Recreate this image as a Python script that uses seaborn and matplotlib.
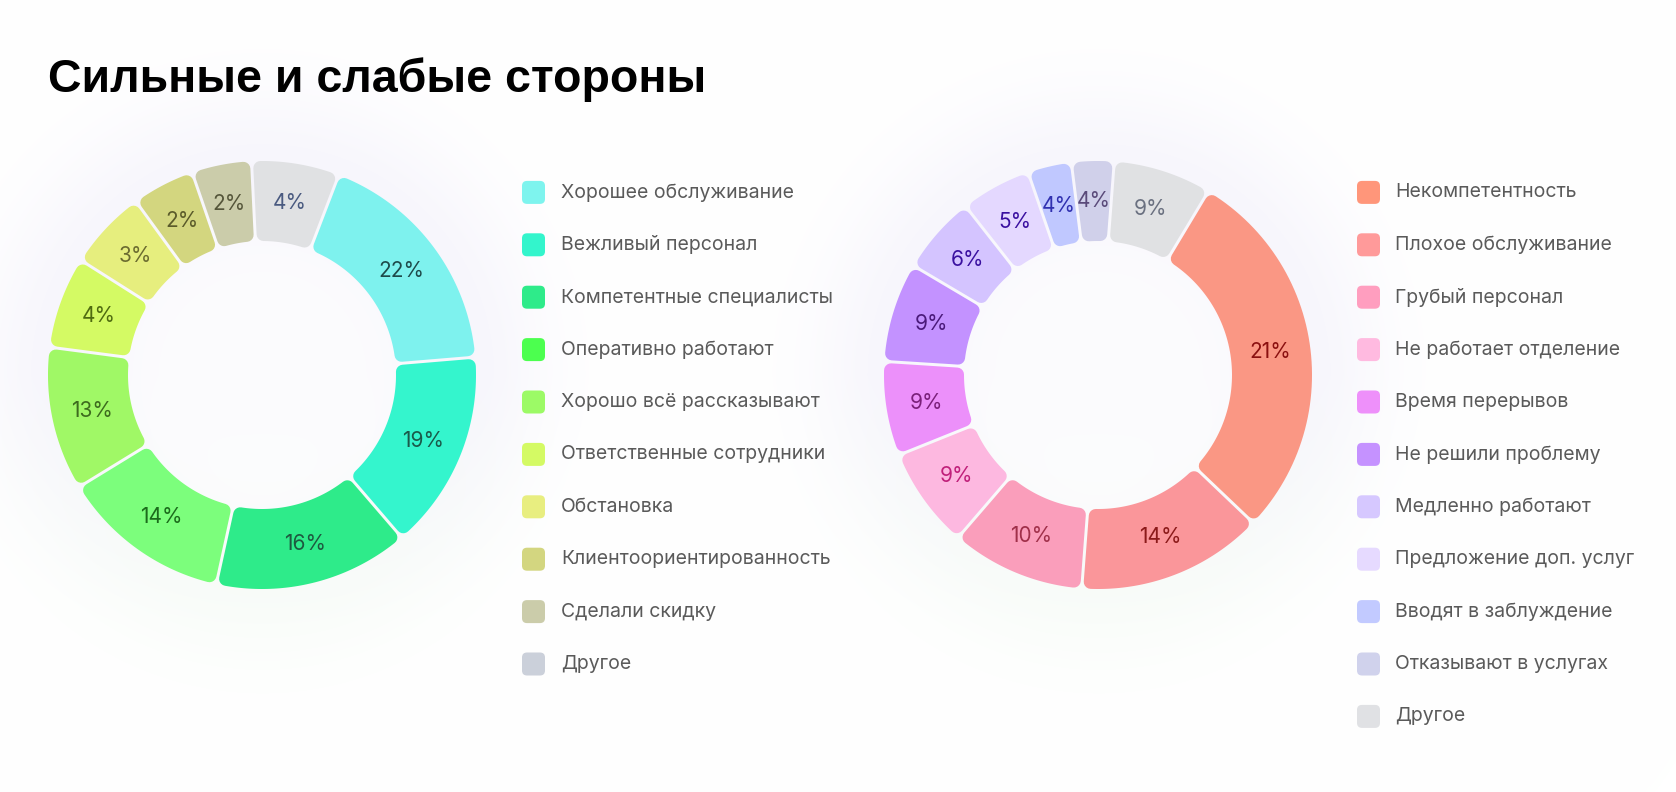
import numpy as np
import matplotlib
matplotlib.use("Agg")
import matplotlib.pyplot as plt
import seaborn as sns
from matplotlib.patches import Polygon, FancyBboxPatch

# ---------------- data ----------------
title = "Сильные и слабые стороны"

left_categories = ["Хорошее обслуживание", "Вежливый персонал", "Компетентные специалисты",
                   "Оперативно работают", "Хорошо всё рассказывают", "Ответственные сотрудники",
                   "Обстановка", "Клиентоориентированность", "Сделали скидку", "Другое"]
left_pct = [22, 19, 16, 14, 13, 4, 3, 2, 2, 4]
# visible share of the ring each slice takes in the picture
left_arc_share = [17.8, 15.0, 14.7, 12.8, 10.8, 6.9, 6.0, 4.7, 4.5, 6.6]
left_colors = ["#7EF2EE", "#34F5CD", "#2EEB8A", "#7CFE7C", "#A0F866", "#D4FA64",
               "#E6EE7E", "#D3D67F", "#CBCCAA", "#E0E1E3"]
left_legend_colors = ["#7EF4EE", "#33F5CC", "#2EEB8A", "#4CFF4F", "#9CFA66", "#D4FA64",
                      "#E8EE80", "#D3D680", "#CBCCAA", "#CBD0DA"]
left_label_colors = ["#1E4A4A", "#1A5A4A", "#1E5A40", "#1B6B1B", "#3D6B1E", "#4F6B10",
                     "#6B6B30", "#5A5A2A", "#55553A", "#4A5A80"]

right_categories = ["Некомпетентность", "Плохое обслуживание", "Грубый персонал",
                    "Не работает отделение", "Время перерывов", "Не решили проблему",
                    "Медленно работают", "Предложение доп. услуг", "Вводят в заблуждение",
                    "Отказывают в услугах", "Другое"]
right_pct = [21, 14, 10, 9, 9, 9, 6, 5, 4, 4, 9]
right_arc_share = [28.5, 14.1, 10.1, 7.6, 7.1, 7.5, 5.9, 5.3, 3.3, 3.2, 7.4]
right_colors = ["#FA9784", "#FA969A", "#FA9EBB", "#FDB8E0", "#EC90FA", "#C392FF",
                "#D4C4FF", "#E4D8FF", "#C0C8FF", "#D0D0EA", "#E0E1E3"]
right_legend_colors = ["#FF967A", "#FF9A9A", "#FF9EBF", "#FFBAE0", "#EE90FA", "#C592FF",
                       "#D6C8FF", "#E6DAFF", "#C2CAFF", "#D0D2EC", "#E0E1E4"]
right_label_colors = ["#8B1010", "#8B1A1A", "#A0304A", "#C0207A", "#7A207A", "#4A1A7A",
                      "#3A10A0", "#3A10A0", "#3030B0", "#5A4A7A", "#6A7080"]

# ---------------- style ----------------
sns.set_theme(style="white")
plt.rcParams["font.family"] = ["Inter", "DejaVu Sans"]

W, H = 1676, 792
fig = plt.figure(figsize=(W / 100, H / 100), dpi=100)
fig.patch.set_facecolor("white")
ax = fig.add_axes([0, 0, 1, 1])
ax.set_facecolor("white")

R, RIN = 214.0, 134.0
RC, GAP = 7.0, 3.0
LEFT_C = (262.0, H - 375.0)
RIGHT_C = (1098.0, H - 375.0)

# soft background glow behind donuts
yy, xx = np.mgrid[0:H, 0:W]
img = np.ones((H, W, 3))
for cx, cy in [LEFT_C, RIGHT_C]:
    cyp = H - cy
    d = np.hypot(xx - cx, yy - cyp)
    wgt = np.exp(-((d - 200) / 85.0) ** 2) * 0.9
    wgt = np.where(d < 200, 0.35 + 0.55 * np.exp(-((d - 200) / 60.0) ** 2), wgt)
    below = np.clip((yy - cyp) / 250.0, 0, 1)
    tint = np.stack([0.035 * (1 - below) + 0.03 * below,
                     0.04 * (1 - below) + 0.012 * below,
                     0.012 * (1 - below) + 0.03 * below], axis=-1)
    img -= wgt[..., None] * tint
ax.imshow(np.clip(img, 0, 1), extent=(0, W, 0, H), origin="upper", zorder=0,
          interpolation="bilinear", aspect="auto")


def draw_donut(shares, colors, pct, label_colors, center, start):
    pal = sns.color_palette(colors)
    wedges, _ = ax.pie(shares, colors=pal, startangle=start, counterclock=False,
                       radius=R, center=center,
                       wedgeprops=dict(width=R - RIN, linewidth=0))
    ro, ri = R - RC, RIN + RC
    dd = RC + GAP / 2
    for w, c, p, lc in zip(wedges, pal, pct, label_colors):
        t1, t2 = w.theta1, w.theta2
        w.set_visible(False)
        ao1 = t1 + np.degrees(np.arcsin(dd / ro))
        ao2 = t2 - np.degrees(np.arcsin(dd / ro))
        ai1 = t1 + np.degrees(np.arcsin(dd / ri))
        ai2 = t2 - np.degrees(np.arcsin(dd / ri))
        a_out = np.radians(np.linspace(ao1, ao2, 60))
        a_in = np.radians(np.linspace(ai2, ai1, 60))
        pts = np.concatenate([
            np.column_stack([center[0] + ro * np.cos(a_out), center[1] + ro * np.sin(a_out)]),
            np.column_stack([center[0] + ri * np.cos(a_in), center[1] + ri * np.sin(a_in)]),
        ])
        ax.add_patch(Polygon(pts, closed=True, facecolor=c, edgecolor=c,
                             linewidth=2 * RC * 0.72, joinstyle="round", zorder=3))
        mid = np.radians((t1 + t2) / 2)
        rm = (R + RIN) / 2
        ax.text(center[0] + rm * np.cos(mid), center[1] + rm * np.sin(mid), f"{p}%",
                ha="center", va="center", color=lc, fontsize=15, zorder=4)


draw_donut(left_arc_share, left_colors, left_pct, left_label_colors, LEFT_C, 69)
draw_donut(right_arc_share, right_colors, right_pct, right_label_colors, RIGHT_C, 59)


def draw_legend(cats, colors, x_box, x_text):
    for i, (cat, col) in enumerate(zip(cats, colors)):
        yc = H - (192.4 + 52.4 * i)
        ax.add_patch(FancyBboxPatch((x_box, yc - 11.5), 23, 23,
                                    boxstyle="round,pad=0,rounding_size=5",
                                    facecolor=col, edgecolor="none", zorder=3))
        ax.text(x_text, yc, cat, ha="left", va="center", fontsize=14,
                color="#5A5A5A", zorder=4)


draw_legend(left_categories, left_legend_colors, 522, 561)
draw_legend(right_categories, right_legend_colors, 1357, 1395)

ax.text(48, H - 92, title, ha="left", va="baseline", fontsize=33.5, fontweight="bold",
        color="black", family=["Liberation Sans", "DejaVu Sans"], zorder=5)

ax.set_xlim(0, W)
ax.set_ylim(0, H)
ax.set_aspect("auto")
ax.axis("off")

fig.savefig("out.png", dpi=100, facecolor="white")
